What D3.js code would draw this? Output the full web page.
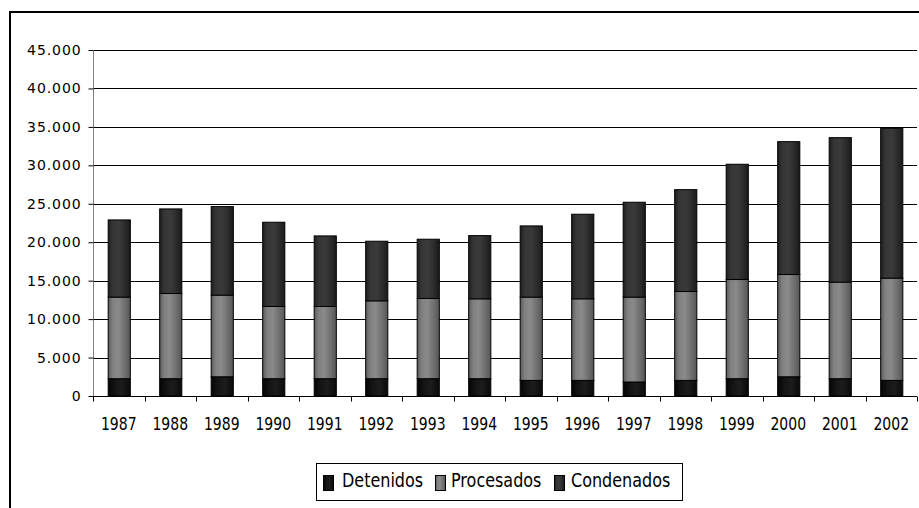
<!DOCTYPE html>
<html><head><meta charset="utf-8">
<script src="https://cdn.jsdelivr.net/npm/d3@7"></script>
<style>body{margin:0;background:#fff}svg{display:block}</style>
</head><body>
<svg id="c" width="919" height="508"></svg>
<script>
const years = ["1987","1988","1989","1990","1991","1992","1993","1994","1995","1996","1997","1998","1999","2000","2001","2002"];
const detenidos  = [2250,2250,2500,2250,2250,2250,2250,2250,2030,2030,1820,2030,2250,2500,2250,2030];
const procesados = [10610,11080,10620,9390,9390,10130,10430,10390,10830,10610,11040,11560,12900,13300,12560,13300];
const condenados = [10040,11000,11510,10960,9180,7750,7710,8220,9260,11000,12340,13250,14990,17280,18790,19480];
const yTicks = [0,5000,10000,15000,20000,25000,30000,35000,40000,45000];
const seriesNames = ["Detenidos","Procesados","Condenados"];

const svg = d3.select("#c");
const font = "'DejaVu Sans', Verdana, sans-serif";
const defs = svg.append("defs");
const grads = {
  Detenidos: [["0%","#050505"],["30%","#141414"],["60%","#1c1c1c"],["100%","#0a0a0a"]],
  Procesados: [["0%","#5a5a5a"],["20%","#808080"],["45%","#8a8a8a"],["65%","#787878"],["80%","#6a6a6a"],["100%","#555"]],
  Condenados: [["0%","#1e1e1e"],["20%","#353535"],["50%","#3a3a3a"],["75%","#2c2c2c"],["100%","#1a1a1a"]]
};
Object.entries(grads).forEach(([k,stops])=>{
  const g = defs.append("linearGradient").attr("id","g"+k).attr("x1","0").attr("x2","1").attr("y1","0").attr("y2","0");
  stops.forEach(s=>g.append("stop").attr("offset",s[0]).attr("stop-color",s[1]));
});

// outer frame
svg.append("path").attr("d","M10,520 L10,12 L930,12").attr("fill","none").attr("stroke","#000").attr("stroke-width",2);

const x = d3.scaleBand().domain(years).range([93,917]).paddingInner(0.57).paddingOuter(0.285);
const xb = d3.scaleBand().domain(years).range([93,917]);
const y = d3.scaleLinear().domain([0,45000]).range([396,50]);

// gridlines
svg.append("g").selectAll("line").data(yTicks.filter(d=>d>0)).join("line")
  .attr("x1",93).attr("x2",917).attr("y1",d=>Math.round(y(d))+0.5).attr("y2",d=>Math.round(y(d))+0.5)
  .attr("stroke","#000").attr("stroke-width",1);

// stacked data
const rows = years.map((yr,i)=>({year:yr, Detenidos:detenidos[i], Procesados:procesados[i], Condenados:condenados[i]}));
const stack = d3.stack().keys(seriesNames)(rows);
svg.append("g").selectAll("g").data(stack).join("g")
  .attr("fill",d=>"url(#g"+d.key+")")
  .selectAll("rect").data(d=>d).join("rect")
  .attr("x",d=>x(d.data.year)+0.5).attr("width",x.bandwidth())
  .attr("y",d=>y(d[1])).attr("height",d=>y(d[0])-y(d[1]))
  .attr("stroke","#000").attr("stroke-width",1);

// y axis
const yAxis = svg.append("g").attr("transform","translate(93.5,0)")
  .call(d3.axisLeft(y).tickValues(yTicks).tickSize(5).tickPadding(7)
    .tickFormat(d=>d===0?"0":d3.format(",")(d).replace(/,/g,".")));
yAxis.select(".domain").attr("stroke","#808080").attr("d","M0,50V396");
yAxis.selectAll(".tick line").attr("stroke","#000");
yAxis.selectAll("text").attr("font-family",font).attr("font-size","14px").attr("fill","#000")
  .attr("letter-spacing","0.9px");

// x axis
const xAxis = svg.append("g").attr("transform","translate(0,396.5)");
xAxis.append("line").attr("x1",93).attr("x2",917).attr("stroke","#000");
xAxis.selectAll("line.t").data(years.concat(["end"])).join("line").attr("class","t")
  .attr("x1",(d,i)=>Math.round(xb.range()[0]+i*xb.step())+0.5).attr("x2",(d,i)=>Math.round(xb.range()[0]+i*xb.step())+0.5)
  .attr("y1",0).attr("y2",5).attr("stroke","#000");
xAxis.selectAll("text").data(years).join("text")
  .attr("transform",d=>`translate(${xb(d)+xb.bandwidth()/2},33.5) scale(1,1.22)`)
  .attr("text-anchor","middle").attr("font-family",font).attr("font-size","14px").text(d=>d);

// legend
const lg = svg.append("g");
lg.append("rect").attr("x",316.5).attr("y",463.5).attr("width",366).attr("height",37).attr("fill","#fff").attr("stroke","#000");
const lx = [323,435,554];
const tx = [342,451,571];
seriesNames.forEach((n,i)=>{
  lg.append("rect").attr("x",lx[i]+0.5).attr("y",475.5).attr("width",10).attr("height",15)
    .attr("fill","url(#g"+n+")").attr("stroke","#000");
  lg.append("text").attr("transform",`translate(${tx[i]},487) scale(1,1.25)`)
    .attr("font-family",font).attr("font-size","16px").text(n);
});
</script>
</body></html>
